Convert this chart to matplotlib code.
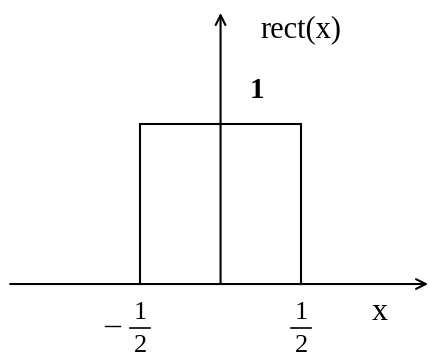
import matplotlib
matplotlib.use("Agg")
import matplotlib.pyplot as plt

# rect(x) outline
rect_x = [-0.5, -0.5, 0.5, 0.5]
rect_y = [0, 1, 1, 0]

# tick fractions under the x axis
tick_pos = [-0.5, 0.5]
tick_neg = [True, False]

plt.rcParams["font.family"] = ["Liberation Serif", "DejaVu Serif"]

fig = plt.figure(figsize=(4.3, 3.61), dpi=100)
ax = fig.add_axes([0, 0, 1, 1])
ax.set_xlim(-1.370, 1.301)
ax.set_ylim(-0.481, 1.775)
ax.axis("off")

arrow = dict(arrowstyle="->,head_length=0.7,head_width=0.35", lw=1.5, color="black",
             shrinkA=0, shrinkB=0)
# x axis and y axis
ax.annotate("", xy=(1.289, 0), xytext=(-1.307, 0), arrowprops=arrow)
ax.annotate("", xy=(0, 1.694), xytext=(0, 0), arrowprops=arrow)

ax.plot(rect_x, rect_y, color="black", lw=1.5, solid_joinstyle="miter")

# fractions
for p, neg in zip(tick_pos, tick_neg):
    ax.text(p, -0.178, "1", ha="center", va="center", fontsize=19)
    ax.plot([p - 0.062, p + 0.062], [-0.275, -0.275], color="black", lw=1.2)
    ax.text(p, -0.39, "2", ha="center", va="center", fontsize=19)
    if neg:
        ax.plot([p - 0.217, p - 0.124], [-0.262, -0.262], color="black", lw=1.0)

ax.text(0.991, -0.181, "x", ha="center", va="center", fontsize=23)
ax.text(0.5, 1.59, "rect(x)", ha="center", va="center", fontsize=22)
ax.text(0.227, 1.21, "1", ha="center", va="center", fontsize=21, fontweight="bold")

fig.savefig("out.png", dpi=100, facecolor="white")
